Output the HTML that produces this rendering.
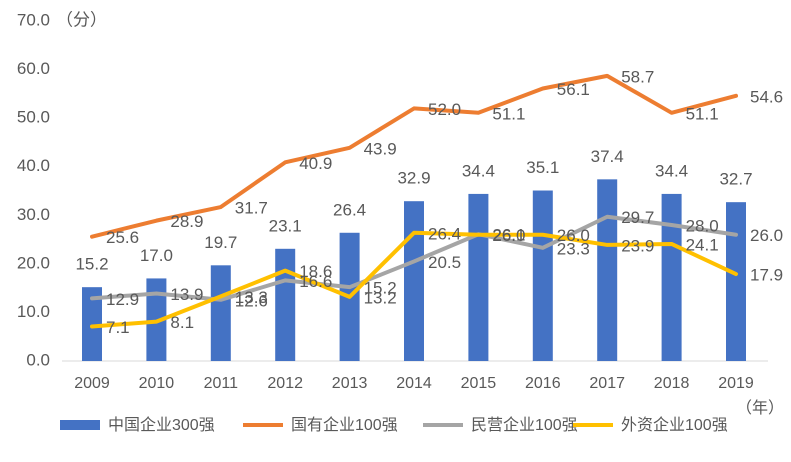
<!DOCTYPE html>
<html><head><meta charset="utf-8"><style>
body{margin:0;background:#fff;}
svg{font-family:"Liberation Sans","Noto Sans CJK SC",sans-serif;}
</style></head><body>
<svg id="chart" width="791" height="457" viewBox="0 0 791 457" xmlns="http://www.w3.org/2000/svg"></svg>
<script>
const categories=["2009","2010","2011","2012","2013","2014","2015","2016","2017","2018","2019"];
const top300=[15.2,17.0,19.7,23.1,26.4,32.9,34.4,35.1,37.4,34.4,32.7];
const soe100=[25.6,28.9,31.7,40.9,43.9,52.0,51.1,56.1,58.7,51.1,54.6];
const private100=[12.9,13.9,12.6,16.6,15.2,20.5,26.1,23.3,29.7,28.0,26.0];
const foreign100=[7.1,8.1,13.3,18.6,13.2,26.4,26.0,26.0,23.9,24.1,17.9];
const yTicks=[0,10,20,30,40,50,60,70];

const svg=document.getElementById('chart');
const NS="http://www.w3.org/2000/svg";
function yS(v){return 361-v*(340/70);}
function xS(i){return 92+i*64.4;}
function mk(tag,attrs,parent){const e=document.createElementNS(NS,tag);for(const k in attrs)e.setAttribute(k,attrs[k]);(parent||svg).appendChild(e);return e;}
function txt(x,y,s,anchor,size){const t=mk('text',{x:x,y:y,'font-size':size||17,fill:'#595959','text-anchor':anchor||'start','dominant-baseline':'middle'});t.textContent=s;return t;}

yTicks.forEach(v=>{
  const t=txt(50,yS(v),v.toFixed(1),'end');
  
  
});
const unit=txt(56,yS(70),'（分）','start');


const ax=mk('line',{x1:62,x2:768,y1:361,y2:361,stroke:'#d9d9d9','stroke-width':1});


categories.forEach((c,i)=>{
  const t=txt(xS(i),384,c,'middle',16);
  
  
});
const yu=txt(760,409,'（年）','middle',16);



top300.forEach((v,i)=>{
  const r=mk('rect',{x:xS(i)-10,y:yS(v),width:20,height:361-yS(v),fill:'#4472c4'});
  
  
  const t=txt(xS(i),yS(v)-22,v.toFixed(1),'middle');
  
  
});
function line(arr,color,name){
  const p=mk('polyline',{points:arr.map((v,i)=>xS(i)+','+yS(v)).join(' '),fill:'none',stroke:color,'stroke-width':4,'stroke-linejoin':'round','stroke-linecap':'round'});
  
  
}
function labels(arr){
  arr.forEach((v,i)=>{
    const t=txt(xS(i)+14,yS(v)+2,v.toFixed(1),'start');
    
    
  });
}
line(soe100,'#ed7d31','line-soe100');
line(private100,'#a5a5a5','line-private100');
line(foreign100,'#ffc000','line-foreign100');
labels(soe100);labels(private100);labels(foreign100);

const lg=mk('g',{});


const items=[['rect','#4472c4','中国企业300强',60],['line','#ed7d31','国有企业100强',243],['line','#a5a5a5','民营企业100强',423],['line','#ffc000','外资企业100强',573]];
items.forEach(it=>{
  const g=mk('g',{},lg);
  
  
  if(it[0]==='rect')mk('rect',{x:it[3],y:420,width:40,height:10,fill:it[1]},g);
  else mk('line',{x1:it[3],x2:it[3]+40,y1:425,y2:425,stroke:it[1],'stroke-width':4},g);
  const t=txt(it[3]+48,426,it[2],'start',16);
  g.appendChild(t);
});
</script>
</body></html>
